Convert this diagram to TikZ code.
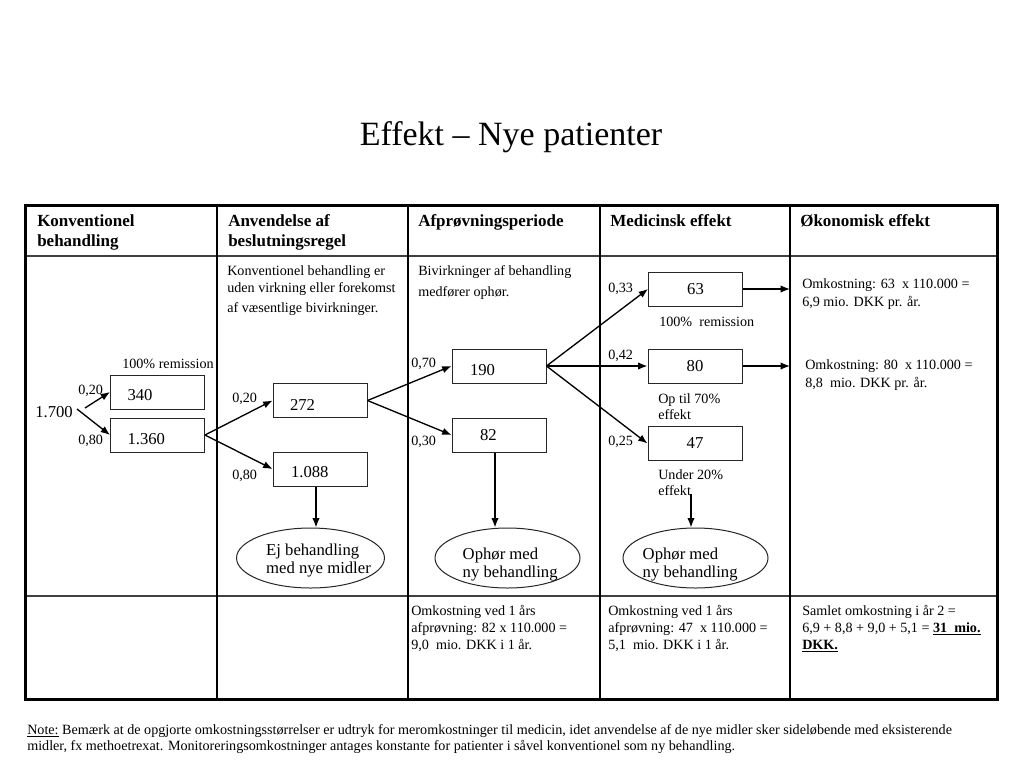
\documentclass[tikz,border=0pt]{standalone}
\usepackage{fontspec}
\setmainfont{Liberation Serif}
\usetikzlibrary{arrows.meta,shapes.geometric,calc}
\newcommand\mylines[1]{\begin{tabular}[t]{@{}l@{}}#1\end{tabular}}
\newcommand\lbox[3]{\raisebox{#2}[\height][\depth]{\makebox[70.5pt][l]{\hspace*{#1}#3}}}
\newcommand\shiftbox[3]{\raisebox{#2}[\height][\depth]{\hspace*{#1}#3\hspace*{-#1}}}
\begin{document}
\begin{tikzpicture}[x=0.75pt,y=-0.75pt,
  every node/.style={inner sep=0pt},
  txt/.style={anchor=base west, font=\fontsize{10.6}{13}\selectfont},
  head/.style={anchor=base west, font=\fontsize{12.75}{15}\selectfont\bfseries},
  num/.style={anchor=base west, font=\fontsize{12.5}{14}\selectfont},
  box/.style={draw=black!85, line width=0.75pt, minimum width=70.5pt, minimum height=25.5pt, font=\fontsize{12.5}{14}\selectfont},
  oval/.style={draw=black!85, line width=0.75pt, ellipse, minimum width=108.75pt, minimum height=45pt, font=\fontsize{12.5}{13.5}\selectfont},
  arr/.style={-{Latex[length=7pt,width=5.5pt]}, line width=1pt},
  frame/.style={line width=2.25pt},
  rule/.style={line width=1.1pt},
]
\useasboundingbox (0,0) rectangle (1024,768);
\fill[white] (0,0) rectangle (1024,768);

% title
\node[font=\fontsize{25.5}{30}\selectfont, anchor=base] (title) at (511,145) {Effekt – Nye patienter};

% table
\draw[rule, black!75] (25,256) -- (997,256);
\draw[rule, black!75] (25,596) -- (997,596);
\foreach \x in {217,408,600,790} \draw[rule] (\x,205) -- (\x,699);
\draw[frame] (25,205) rectangle (997,699);

% headers
\node[head] (h1) at (37,226) {\mylines{Konventionel\\behandling}};
\node[head] (h2) at (228,226) {\mylines{Anvendelse af\\beslutningsregel}};
\node[head] (h3) at (418,226) {Afprøvningsperiode};
\node[head] (h4) at (610,226) {Medicinsk effekt};
\node[head] (h5) at (800,226) {Økonomisk effekt};

% column texts
\node[txt] (r2) at (227,275) {\mylines{Konventionel behandling er\\uden virkning eller forekomst\\[2pt]af væsentlige bivirkninger.}};
\node[txt] (r3) at (418,275) {\mylines{Bivirkninger af behandling\\[2.75pt]medfører ophør.}};

% column 1
\node[num] (t1700) at (35,417) {1.700};
\node[txt] (l1) at (78,394) {0,20};
\node[txt] (l2) at (78,444) {0,80};
\node[txt] (rem1) at (122,368) {100\% remission};
\node[box] (b340) at (157.5,392) {\lbox{12.75pt}{-2.5pt}{340}};
\node[box] (b1360) at (157.5,435) {\lbox{12.75pt}{-3pt}{1.360}};
\coordinate (s1) at (85,408);
\coordinate (s2) at (77,409);
\draw[arr] (s1) -- (b340.west);
\draw[arr] (s2) -- (b1360.west);

% column 2
\node[txt] (l3) at (232,402) {0,20};
\node[txt] (l4) at (232,479) {0,80};
\node[box] (b272) at (320,400.5) {\lbox{12.75pt}{-3.5pt}{272}};
\node[box] (b1088) at (320,469) {\lbox{13.5pt}{-2.5pt}{1.088}};
\node[oval] (o1) at (310.5,558) {\shiftbox{6pt}{-2.5pt}{\begin{tabular}{@{}l@{}}Ej behandling\\med nye midler\end{tabular}}};
\draw[arr] (b1360.east) -- (b272.west);
\draw[arr] (b1360.east) -- (b1088.west);
\coordinate (a1088) at ($(b1088.south)+(-4,0)$);
\draw[arr] (a1088) -- (a1088 |- o1.north);

% column 3
\node[txt] (l5) at (411,367) {0,70};
\node[txt] (l6) at (411,445) {0,30};
\node[box] (b190) at (499,366) {\lbox{13.5pt}{-3pt}{190}};
\node[box] (b82) at (499,435) {\lbox{21pt}{0pt}{82}};
\node[oval] (o2) at (507.5,558) {\shiftbox{2pt}{-5.5pt}{\begin{tabular}{@{}l@{}}Ophør med\\ny behandling\end{tabular}}};
\draw[arr] (b272.east) -- (b190.west);
\draw[arr] (b272.east) -- (b82.west);
\coordinate (a82) at ($(b82.south)+(-4,0)$);
\draw[arr] (a82) -- (a82 |- o2.north);

% column 4
\node[txt] (l7) at (608,292) {0,33};
\node[txt] (l8) at (608,359) {0,42};
\node[txt] (l9) at (608,445) {0,25};
\node[box] (b63) at (695.5,289) {63};
\node[box] (b80) at (695,366) {80};
\node[box] (b47) at (695,443.5) {47};
\node[txt] (rem2) at (659,326) {100\%\ \ remission};
\node[txt] (op70) at (658,403) {\fontsize{10.6}{12}\selectfont\mylines{Op til 70\%\\effekt}};
\node[txt] (u20) at (658,479) {\fontsize{10.6}{12}\selectfont\mylines{Under 20\%\\effekt}};
\node[oval] (o3) at (695.5,558) {\shiftbox{-4pt}{-5.5pt}{\begin{tabular}{@{}l@{}}Ophør med\\ny behandling\end{tabular}}};
\draw[arr] (b190.east) -- (b63.west);
\draw[arr] (b190.east) -- (b80.west);
\draw[arr] (b190.east) -- (b47.west);
\coordinate (a47) at (691,494);
\draw[arr] (a47) -- (a47 |- o3.north);

% column 5
\coordinate (e63) at (790,289);
\coordinate (e80) at (790,366);
\draw[arr] (b63.east) -- (e63);
\draw[arr] (b80.east) -- (e80);
\node[txt] (c1) at (802,288) {\fontsize{10.6}{13.5}\selectfont\mylines{Omkostning: 63\ \ x 110.000 =\\6,9 mio. DKK pr. år.}};
\node[txt] (c2) at (805,369) {\fontsize{10.6}{13.5}\selectfont\mylines{Omkostning: 80\ \ x 110.000 =\\8,8\ \ mio. DKK pr. år.}};

% bottom row
\node[txt] (d3) at (411,615) {\mylines{Omkostning ved 1 års\\afprøvning: 82 x 110.000 =\\9,0\ \ mio. DKK i 1 år.}};
\node[txt] (d4) at (608,615) {\mylines{Omkostning ved 1 års\\afprøvning: 47\ \ x 110.000 =\\5,1\ \ mio. DKK i 1 år.}};
\node[txt] (d5) at (802,615) {\mylines{Samlet omkostning i år 2 =\\6,9 + 8,8 + 9,0 + 5,1 = \textbf{\underline{31\ \ mio.}}\\\textbf{\underline{DKK.}}}};

% note
\node[txt] (note) at (27,734) {\fontsize{10.6}{12}\selectfont\mylines{\underline{Note:} Bemærk at de opgjorte omkostningsstørrelser er udtryk for meromkostninger til medicin, idet anvendelse af de nye midler sker sideløbende med eksisterende\\midler, fx methoetrexat. Monitoreringsomkostninger antages konstante for patienter i såvel konventionel som ny behandling.}};
\end{tikzpicture}
\end{document}
